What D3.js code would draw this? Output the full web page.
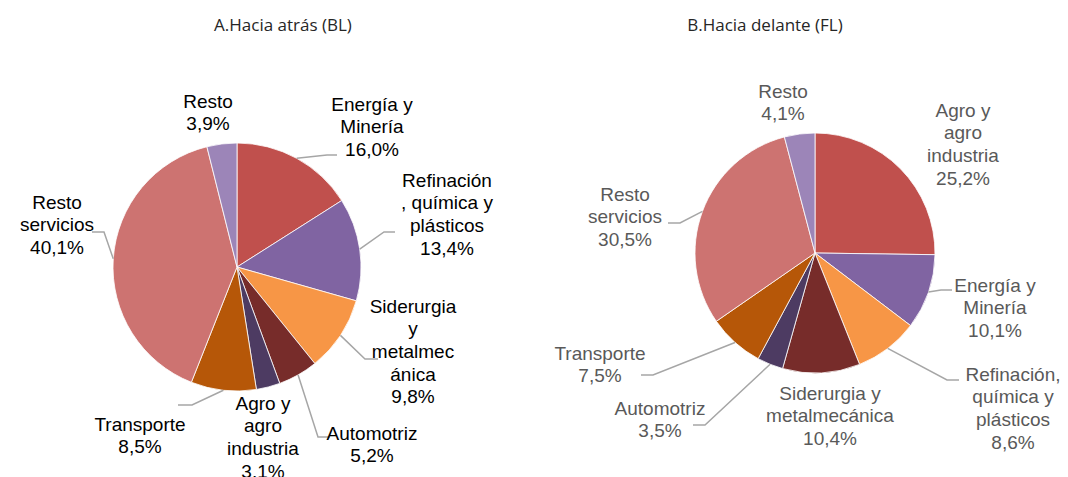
<!DOCTYPE html>
<html>
<head>
<meta charset="utf-8">
<script src="https://cdn.jsdelivr.net/npm/d3@7"></script>
<style>
body { margin: 0; background: #fff; }
</style>
</head>
<body>
<script>
// datos: encadenamientos hacia atrás (BL)
var sectoresBL = [["Energía y", "Minería"], ["Refinación", ", química y", "plásticos"], ["Siderurgia", "y", "metalmec", "ánica"], ["Automotriz"], ["Agro y", "agro", "industria"], ["Transporte"], ["Resto", "servicios"], ["Resto"]];
var valoresBL = [16.0, 13.4, 9.8, 5.2, 3.1, 8.5, 40.1, 3.9];
var etiquetasBL = ["16,0%", "13,4%", "9,8%", "5,2%", "3.1%", "8,5%", "40,1%", "3,9%"];

// datos: encadenamientos hacia delante (FL)
var sectoresFL = [["Agro y", "agro", "industria"], ["Energía y", "Minería"], ["Refinación,", "química y", "plásticos"], ["Siderurgia y", "metalmecánica"], ["Automotriz"], ["Transporte"], ["Resto", "servicios"], ["Resto"]];
var valoresFL = [25.2, 10.1, 8.6, 10.4, 3.5, 7.5, 30.5, 4.1];
var etiquetasFL = ["25,2%", "10,1%", "8,6%", "10,4%", "3,5%", "7,5%", "30,5%", "4,1%"];

var colores = ["#C0504D", "#8064A2", "#F79646", "#772C2A", "#4D3B62", "#B65708", "#CD7371", "#9C85B8"];

var width = 1068, height = 477, lineH = 22.7;

var svg = d3.select("body").append("svg")
    .attr("width", width)
    .attr("height", height);

// posiciones de etiquetas (centro de la primera linea) y quiebres de las lineas guia
var graficos = [
    {
        titulo: "A.Hacia atrás (BL)", tx: 283, cx: 237, cy: 267, r: 124, color: "#000",
        sectores: sectoresBL, valores: valoresBL, etiquetas: etiquetasBL,
        pos: [[372, 104], [447, 180], [413, 306], [372, 433], [263, 403], [140, 424], [57, 202], [208, 101]],
        guias: [[[327, 155], [337, 155]], [[384, 232], [395, 232]], [[365, 359], [378, 359]], [[318, 437], [330, 437]],
                null, [[192, 405], [178, 405]], [[104, 232], [92, 232]], null]
    },
    {
        titulo: "B.Hacia delante (FL)", tx: 765, cx: 815, cy: 253, r: 120, color: "#595959",
        sectores: sectoresFL, valores: valoresFL, etiquetas: etiquetasFL,
        pos: [[963, 110], [995, 285], [1013, 374], [830, 393], [660, 408], [600, 353], [625, 194], [783, 91]],
        guias: [null, [[941, 290], [952, 290]], [[947, 380], [959, 380]], null, [[705, 425], [693, 425]],
                [[653, 375], [641, 375]], [[680, 223], [668, 223]], null]
    }
];

graficos.forEach(function (g) {
    svg.append("text")
        .attr("x", g.tx)
        .attr("y", 25)
        .attr("dy", "0.35em")
        .attr("text-anchor", "middle")
        .style("font-family", "'Open Sans', sans-serif")
        .style("font-size", "17px")
        .style("fill", "#262626")
        .text(g.titulo);

    var pie = d3.pie().sort(null).value(function (d) { return d; });
    var arcs = pie(g.valores);
    var arc = d3.arc().innerRadius(0).outerRadius(g.r);

    var gp = svg.append("g")
        .attr("transform", "translate(" + g.cx + "," + g.cy + ")");

    gp.selectAll("path.slice")
        .data(arcs)
        .enter().append("path")
        .attr("class", "slice")
        .attr("d", arc)
        .attr("fill", function (d, i) { return colores[i]; })
        .attr("stroke", "#fff")
        .attr("stroke-width", 0.8);

    // lineas guia
    var line = d3.line();
    arcs.forEach(function (d, i) {
        if (!g.guias[i]) return;
        var a = (d.startAngle + d.endAngle) / 2;
        var p0 = [g.cx + g.r * Math.sin(a), g.cy - g.r * Math.cos(a)];
        svg.append("path")
            .attr("d", line([p0].concat(g.guias[i])))
            .attr("fill", "none")
            .attr("stroke", "#A6A6A6")
            .attr("stroke-width", 1.5);
    });

    // etiquetas
    arcs.forEach(function (d, i) {
        var lineas = g.sectores[i].concat([g.etiquetas[i]]);
        var t = svg.append("text")
            .attr("text-anchor", "middle")
            .style("font-family", "'Liberation Sans', Arial, sans-serif")
            .style("font-size", "19px")
            .style("fill", g.color);
        lineas.forEach(function (s, k) {
            t.append("tspan")
                .attr("x", g.pos[i][0])
                .attr("y", g.pos[i][1] + k * lineH)
                .attr("dy", "0.35em")
                .text(s);
        });
    });
});
</script>
</body>
</html>
